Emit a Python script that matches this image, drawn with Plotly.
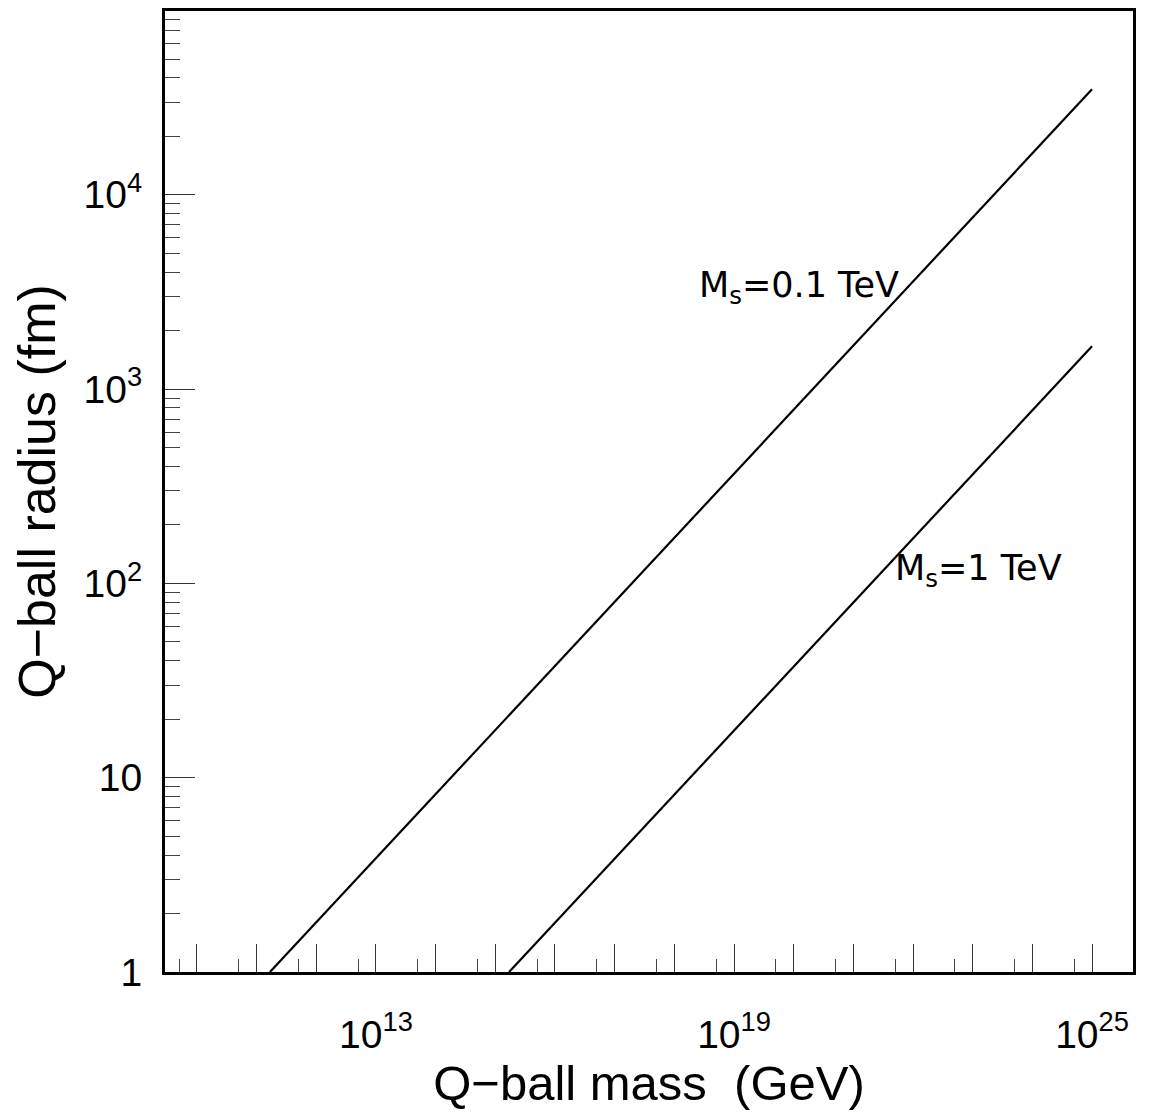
import plotly.graph_objects as go

# Data (log-log straight lines)
mass_01tev = [1.67e11, 1.0e25]      # GeV
radius_01tev = [1.0, 3.49e4]        # fm
mass_1tev = [1.7e15, 1.0e25]        # GeV
radius_1tev = [1.0, 1.66e3]         # fm

x_major = [10.0 ** k for k in range(10, 26)]
x_labels = ["10<sup>%d</sup>" % k if k in (13, 19, 25) else "" for k in range(10, 26)]
x_minor = [5.0 * 10.0 ** k for k in range(9, 26)]

y_major = [1, 10, 100, 1000, 10000]
y_labels = ["1", "10", "10<sup>2</sup>", "10<sup>3</sup>", "10<sup>4</sup>"]
y_minor = [m * 10.0 ** k for k in range(0, 5) for m in range(2, 10)]

FONT = "Liberation Sans"

fig = go.Figure()
fig.add_trace(go.Scatter(x=mass_01tev, y=radius_01tev, mode="lines",
                         line=dict(color="black", width=2.2), showlegend=False))
fig.add_trace(go.Scatter(x=mass_1tev, y=radius_1tev, mode="lines",
                         line=dict(color="black", width=2.2), showlegend=False))

fig.update_layout(
    width=1158, height=1115,
    margin=dict(l=165, r=25, t=8, b=143),
    paper_bgcolor="white", plot_bgcolor="white",
    font=dict(family=FONT, color="black", size=38),
    xaxis=dict(
        type="log", range=[9.464, 25.687],
        tickvals=x_major, ticktext=x_labels,
        ticks="inside", ticklen=28, tickwidth=1, tickcolor="#333",
        minor=dict(tickvals=x_minor, ticks="inside", ticklen=13, tickwidth=1, tickcolor="#444"),
        showgrid=False, zeroline=False,
        showline=True, linewidth=3, linecolor="black", mirror=True,
        tickfont=dict(size=39), ticklabelstandoff=26,
        title=dict(text="Q\u2212ball mass  (GeV)", font=dict(size=49), standoff=8),
    ),
    yaxis=dict(
        type="log", range=[0, 4.946],
        tickvals=y_major, ticktext=y_labels,
        ticks="inside", ticklen=30, tickwidth=1, tickcolor="#333",
        minor=dict(tickvals=y_minor, ticks="inside", ticklen=15, tickwidth=1, tickcolor="#444"),
        showgrid=False, zeroline=False,
        showline=True, linewidth=3, linecolor="black", mirror=True,
        tickfont=dict(size=39), ticklabelstandoff=12,
        title=dict(text="Q\u2212ball radius (fm)", font=dict(size=52), standoff=12),
    ),
    annotations=[
        dict(x=18.378, y=3.524, xref="x", yref="y", text="M<sub>s</sub>=0.1 TeV",
             showarrow=False, xanchor="left", yanchor="middle",
             font=dict(family="DejaVu Sans", size=35)),
        dict(x=21.666, y=2.069, xref="x", yref="y", text="M<sub>s</sub>=1 TeV",
             showarrow=False, xanchor="left", yanchor="middle",
             font=dict(family="DejaVu Sans", size=35)),
    ],
)

fig.write_html("out.html")
